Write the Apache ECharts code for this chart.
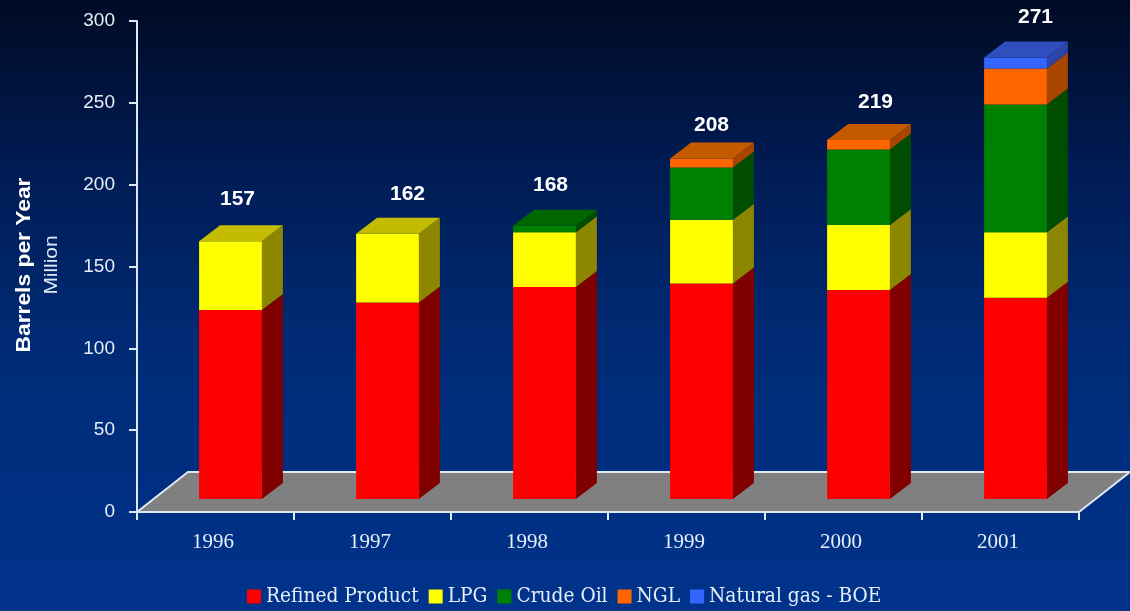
<!DOCTYPE html>
<html>
<head>
<meta charset="utf-8">
<style>html,body{margin:0;padding:0;background:#000a24}#c{width:1130px;height:611px}</style>
<script src="https://cdn.jsdelivr.net/npm/echarts@6/dist/echarts.min.js"></script>
</head>
<body>
<div id="c"></div>
<script>
const years = ['1996','1997','1998','1999','2000','2001'];
const refinedProduct = [115.5,120,129.5,131.7,127.7,123];
const lpg = [42,42,33.5,38.9,39.7,40];
const crudeOil = [0,0,4,32,46.2,78];
const ngl = [0,0,0,5.4,5.7,22];
const naturalGas = [0,0,0,0,0,6.8];
const totals = [157,162,168,208,219,271];
const yTicks = {min:0,max:300,interval:50};

const layers = [
  {name:'Refined Product', values:refinedProduct, front:'#ff0000', side:'#800000', top:'#b00000'},
  {name:'LPG', values:lpg, front:'#ffff00', side:'#8c8600', top:'#c4bc00'},
  {name:'Crude Oil', values:crudeOil, front:'#008000', side:'#004d00', top:'#006600'},
  {name:'NGL', values:ngl, front:'#ff6600', side:'#a84600', top:'#c45a00'},
  {name:'Natural gas - BOE', values:naturalGas, front:'#3366ff', side:'#2a44a8', top:'#2f4fbe'}
];

// projection constants of the pseudo-3D box
const BAR_RATIO = 0.4, SHIFT_X = 15, SHIFT_Y = -13, DEPTH_X = 21, DEPTH_Y = -16, FLOOR_X = 51, FLOOR_Y = -40;
// nudges of the total labels as placed in the original
const labelNudge = [[7,-43],[20,-40],[6,-39],[10,-33.5],[17,-38.5],[20,-38]];

function isTopLayer(li, i){
  for(let k=li+1;k<layers.length;k++){ if(layers[k].values[i]>0) return false; }
  return true;
}

function barSeries(layer, li){
  const data = years.map((y,i)=>{
    let base = 0;
    for(let k=0;k<li;k++) base += layers[k].values[i];
    return [i, base, base + layer.values[i]];
  });
  return {
    type:'custom', name:layer.name, z:3, clip:false,
    itemStyle:{color:layer.front},
    encode:{x:0,y:[1,2]},
    data,
    renderItem(params, api){
      const i = api.value(0);
      if(layer.values[i] <= 0) return null;
      const w = api.size([1,0])[0]*BAR_RATIO;
      const a = api.coord([i, api.value(1)]);
      const b = api.coord([i, api.value(2)]);
      const x0 = a[0]+SHIFT_X-w/2, x1 = x0+w, y0 = a[1]+SHIFT_Y, y1 = b[1]+SHIFT_Y;
      const children = [
        {type:'polygon', shape:{points:[[x1,y0],[x1+DEPTH_X,y0+DEPTH_Y],[x1+DEPTH_X,y1+DEPTH_Y],[x1,y1]]}, style:{fill:layer.side}},
        {type:'rect', shape:{x:x0,y:y1,width:w,height:y0-y1}, style:{fill:layer.front}}
      ];
      if(isTopLayer(li,i)){
        children.push({type:'polygon', shape:{points:[[x0,y1],[x1,y1],[x1+DEPTH_X,y1+DEPTH_Y],[x0+DEPTH_X,y1+DEPTH_Y]]}, style:{fill:layer.top}});
      }
      return {type:'group', children};
    }
  };
}

const floorSeries = {
  type:'custom', name:'floor', z:1, clip:false, silent:true,
  data:[[0,0]],
  renderItem(params, api){
    const c = params.coordSys;
    const yb = c.y+c.height, xl = c.x, xr = c.x+c.width;
    return {type:'group', children:[
      {type:'polygon', shape:{points:[[xl,yb],[xr,yb],[xr+FLOOR_X,yb+FLOOR_Y],[xl+FLOOR_X,yb+FLOOR_Y]]}, style:{fill:'#808080'}},
      {type:'polyline', shape:{points:[[xl,yb],[xl+FLOOR_X,yb+FLOOR_Y],[xr+FLOOR_X,yb+FLOOR_Y],[xr,yb]]}, style:{fill:null,stroke:'#dfe9f5',lineWidth:2}}
    ]};
  }
};

const totalSeries = {
  type:'custom', name:'totals', z:4, clip:false, silent:true,
  encode:{x:0,y:1},
  data: totals.map((t,i)=>[i,t]),
  renderItem(params, api){
    const i = api.value(0), p = api.coord([i, api.value(1)]);
    return {type:'text', style:{
      text:String(totals[i]),
      x:p[0]+SHIFT_X+labelNudge[i][0], y:p[1]+SHIFT_Y+labelNudge[i][1],
      align:'center', verticalAlign:'middle',
      fill:'#ffffff', font:'bold 21px "Liberation Sans"'
    }};
  }
};

const chart = echarts.init(document.getElementById('c'), null, {renderer:'canvas'});
chart.setOption({
  animation:false,
  backgroundColor:{type:'linear',x:0,y:0,x2:0,y2:1,colorStops:[
    {offset:0,color:'#000a24'},{offset:0.25,color:'#001a50'},{offset:0.55,color:'#002a74'},{offset:1,color:'#00338c'}
  ]},
  grid:{left:137,top:21,width:942,height:491,containLabel:false},
  xAxis:{type:'category',data:years,z:5,
    axisLine:{lineStyle:{color:'#dfe9f5',width:2}},
    axisTick:{show:true,alignWithLabel:false,length:8,lineStyle:{color:'#dfe9f5',width:2}},
    axisLabel:{color:'#e6eef8',fontFamily:'Liberation Serif',fontSize:21,margin:20,padding:[0,5,0,0]},
    splitLine:{show:false}
  },
  yAxis:{type:'value',min:yTicks.min,max:yTicks.max,interval:yTicks.interval,z:5,
    axisLine:{show:true,lineStyle:{color:'#dfe9f5',width:2}},
    axisTick:{show:true,length:8,lineStyle:{color:'#dfe9f5',width:2}},
    axisLabel:{color:'#e6eef8',fontFamily:'Liberation Sans',fontSize:19,margin:22,padding:[3,0,0,0]},
    splitLine:{show:false}
  },
  legend:{
    left:247,top:586,padding:0,itemWidth:14,itemHeight:14,itemGap:10,icon:'rect',selectedMode:false,
    data:layers.map(l=>l.name),
    textStyle:{color:'#e6eef8',fontFamily:'DejaVu Serif Condensed',fontSize:20.7}
  },
  graphic:[
    {type:'text',x:24,y:265,rotation:Math.PI/2,scaleX:1.14,style:{text:'Barrels per Year',align:'center',verticalAlign:'middle',fill:'#ffffff',font:'bold 20px "Liberation Sans"'}},
    {type:'text',x:52,y:265,rotation:Math.PI/2,scaleX:1.1,style:{text:'Million',align:'center',verticalAlign:'middle',fill:'#dfe9f5',font:'19px "Liberation Sans"'}}
  ],
  series:[floorSeries].concat(layers.map(barSeries)).concat([totalSeries])
});
</script>
</body>
</html>
